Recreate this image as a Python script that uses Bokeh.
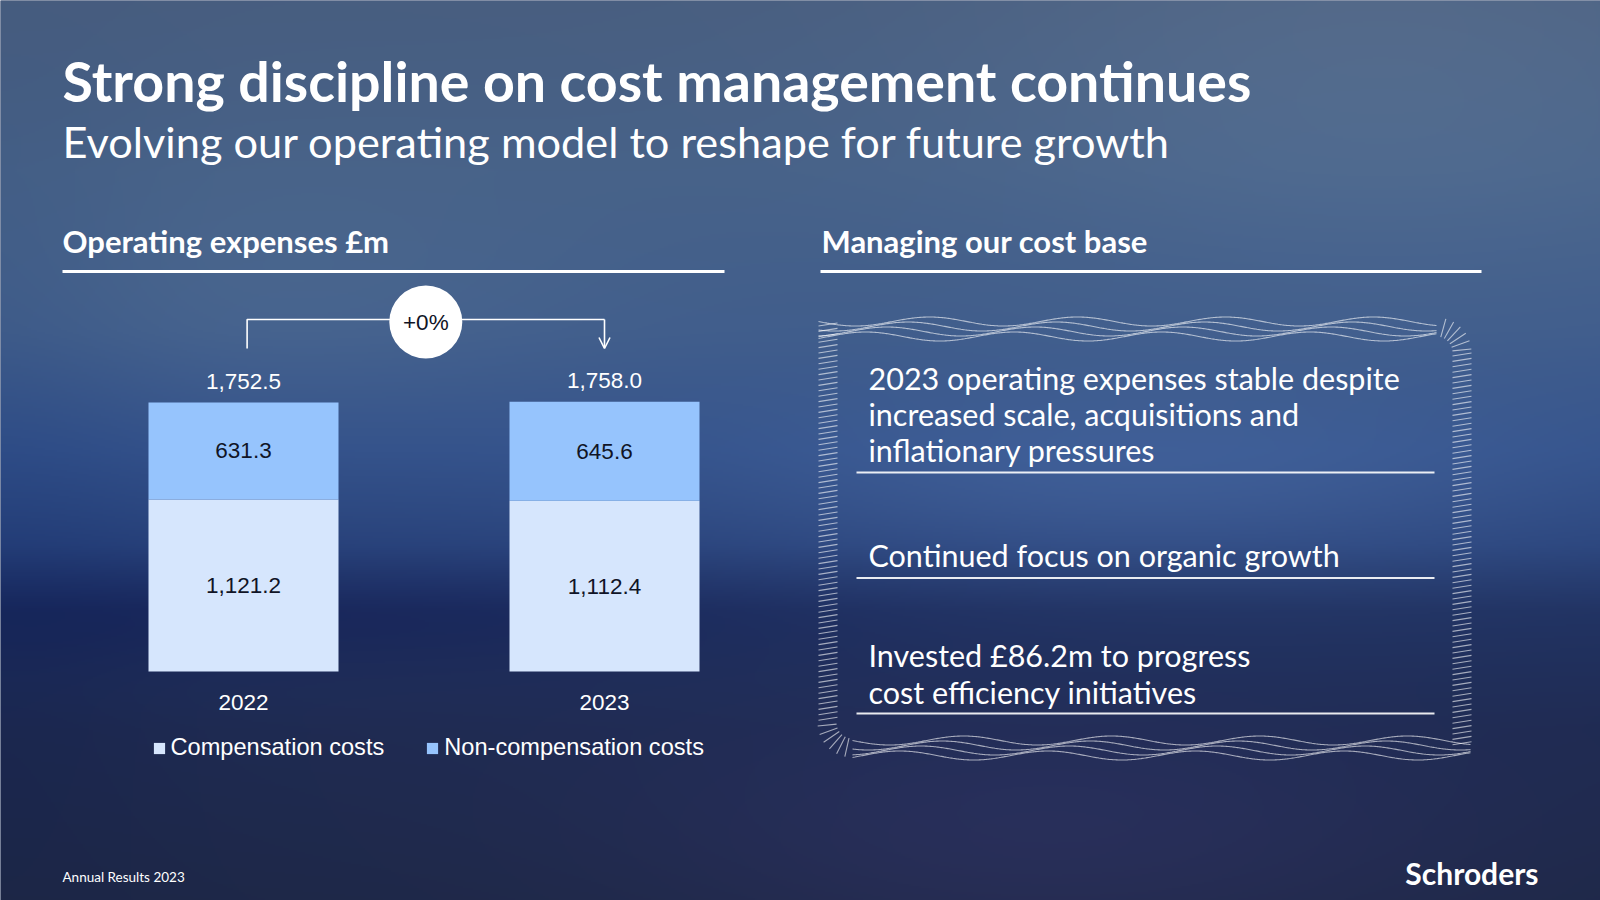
import numpy as np
from bokeh.plotting import figure
from bokeh.models import Range1d, ColumnDataSource, Arrow, OpenHead, Legend, LegendItem
from bokeh.core.properties import value
from bokeh.embed import file_html
from bokeh.resources import INLINE

# ---------------- data ----------------
years = ["2022", "2023"]
comp_costs = [1121.2, 1112.4]
noncomp_costs = [631.3, 645.6]
series_names = ["Compensation costs", "Non-compensation costs"]
change_label = "+0%"

title_text = "Strong discipline on cost management continues"
subtitle_text = "Evolving our operating model to reshape for future growth"
left_heading = "Operating expenses £m"
right_heading = "Managing our cost base"
bullet_lines = [
    ["2023 operating expenses stable despite", "increased scale, acquisitions and", "inflationary pressures"],
    ["Continued focus on organic growth"],
    ["Invested £86.2m to progress", "cost efficiency initiatives"],
]
footer_text = "Annual Results 2023"
brand_text = "Schroders"

# ---------------- styles ----------------
COMP = "#d6e6fd"
NONCOMP = "#96c4fd"
DARK = "#101426"
WHITE = "#ffffff"
HEAD_FONT = "Lato"
BODY_FONT = "Lato"
NUM_FONT = "Liberation Sans"

W, H = 1600, 900
OX, OY = 0, 0  # coordinates below are picture pixels, y = -picture_y

p = figure(width=W, height=H, x_range=Range1d(OX, OX + W), y_range=Range1d(-(OY + H), -OY),
           output_backend="svg", toolbar_location=None, min_border=0,
           x_axis_location=None, y_axis_location=None)
p.grid.visible = False
p.outline_line_color = None
p.background_fill_color = "#2c3f66"
p.border_fill_color = "#2c3f66"

# ---------------- background (blurred sky) ----------------
iw, ih = 800, 450
sx = OX + (np.arange(iw) + 0.5) * (W / iw)
sy = OY + (np.arange(ih) + 0.5) * (H / ih)
XX, YY = np.meshgrid(sx, sy)
stops_y = [0, 170, 330, 450, 545, 610, 730, 900]
stops_c = np.array([
    (72, 94, 128), (70, 97, 136), (63, 92, 139), (51, 81, 138),
    (42, 68, 124), (33, 51, 99), (31, 43, 82), (30, 40, 72)], dtype=float)
img = np.zeros((ih, iw, 3))
for c in range(3):
    img[:, :, c] = np.interp(YY, stops_y, stops_c[:, c])
blobs = [
    ((1380, 60), (320, 160), (12, 12, 10)),
    ((250, 300), (260, 90), (8, 8, 4)),
    ((1150, 490), (300, 70), (14, 16, 16)),
    ((330, 612), (380, 40), (-7, -10, -6)),
    ((1050, 840), (300, 90), (10, 6, 14)),
    ((0, 450), (120, 300), (-6, -6, -4)),
]
for (cx, cy), (gx, gy), dc in blobs:
    g = np.exp(-(((XX - cx) / gx) ** 2 + ((YY - cy) / gy) ** 2) / 2)
    for c in range(3):
        img[:, :, c] += dc[c] * g
rgba = np.zeros((ih, iw, 4), dtype=np.uint8)
rgba[:, :, :3] = np.clip(img, 0, 255).astype(np.uint8)
rgba[:, :, 3] = 255
rgba = np.flipud(rgba).copy()
p.image_rgba(image=[rgba.view(dtype=np.uint32).reshape(ih, iw)], x=OX, y=-(OY + H), dw=W, dh=H)

# ---------------- chart scales ----------------
bar_bottom_px = 671.0
px_per_unit = 269.0 / 1752.5
x0_px, step_px = 243.0, 361.0
bar_w_px = 190.0
p.extra_y_ranges = {"val": Range1d(-(OY + H - bar_bottom_px) / px_per_unit, (bar_bottom_px - OY) / px_per_unit)}
p.extra_x_ranges = {"cat": Range1d(-(x0_px - OX) / step_px, (OX + W - x0_px) / step_px)}

idx = list(range(len(years)))
totals = [a + b for a, b in zip(comp_costs, noncomp_costs)]
src = ColumnDataSource(dict(
    x=idx, year=years, comp=comp_costs, non=noncomp_costs, total=totals,
    comp_mid=[c / 2 for c in comp_costs],
    non_mid=[c + n / 2 for c, n in zip(comp_costs, noncomp_costs)],
    comp_lbl=[f"{v:,.1f}" for v in comp_costs],
    non_lbl=[f"{v:,.1f}" for v in noncomp_costs],
    tot_lbl=[f"{v:,.1f}" for v in totals],
    zero=[0] * len(years),
))
bw = bar_w_px / step_px
r_comp = p.vbar(x="x", width=bw, bottom=0, top="comp", source=src, fill_color=COMP,
                line_color=None, x_range_name="cat", y_range_name="val")
r_non = p.vbar(x="x", width=bw, bottom="comp", top="total", source=src, fill_color=NONCOMP,
               line_color=None, x_range_name="cat", y_range_name="val")

numkw = dict(source=src, x_range_name="cat", y_range_name="val", text_align="center",
             text_baseline="middle", text_font=value(NUM_FONT), text_font_size="22.5px")
p.text(x="x", y="comp_mid", text="comp_lbl", text_color=DARK, **numkw)
p.text(x="x", y="non_mid", text="non_lbl", text_color=DARK, **numkw)
p.text(x="x", y="total", text="tot_lbl", text_color=WHITE, y_offset=-21, **numkw)
p.text(x="x", y="zero", text="year", text_color=WHITE, y_offset=31, **numkw)

# bracket + change bubble
p.line(x=[0.01, 0.01, 1], y=[-348, -319, -319], x_range_name="cat", line_color=WHITE, line_width=1.6)
p.add_layout(Arrow(end=OpenHead(size=11, line_color=WHITE, line_width=1.6),
                   x_start=1, y_start=-319, x_end=1, y_end=-348, x_range_name="cat",
                   line_color=WHITE, line_width=1.6))
p.scatter(x=[0.505], y=[-321.5], size=73, marker="circle", fill_color=WHITE, line_color=None,
          x_range_name="cat")
p.text(x=[0.505], y=[-321.5], text=[change_label], x_range_name="cat", text_align="center",
       text_baseline="middle", text_font=value(NUM_FONT), text_font_size="22.5px", text_color=DARK)

# legend
legend = Legend(items=[LegendItem(label=series_names[0], renderers=[r_comp]),
                       LegendItem(label=series_names[1], renderers=[r_non])],
                orientation="horizontal", location=(151.5, H - 761),
                glyph_width=14, glyph_height=14, label_height=22, label_standoff=5,
                spacing=41, padding=0, margin=0, border_line_alpha=0, background_fill_alpha=0,
                label_text_font=NUM_FONT, label_text_font_size="23.6px", label_text_color=WHITE)
p.add_layout(legend, "center")

# ---------------- headings ----------------
p.text(x=[62], y=[-80], text=[title_text], text_font=value(HEAD_FONT), text_font_style="bold",
       text_font_size="55.5px", text_color=WHITE, text_baseline="middle")
p.text(x=[62], y=[-140], text=[subtitle_text], text_font=value(BODY_FONT),
       text_font_size="43.3px", text_color=WHITE, text_baseline="middle")
p.text(x=[62, 821], y=[-240, -240], text=[left_heading, right_heading], text_font=value(HEAD_FONT),
       text_font_style="bold", text_font_size="31px", text_color=WHITE, text_baseline="middle")
p.segment(x0=[62, 820], y0=[-271, -271], x1=[724, 1481], y1=[-271, -271], line_color=WHITE, line_width=3)

# ---------------- right panel ----------------
line_y = [[377, 413, 449], [554], [654, 691]]
rule_y = [472, 577.5, 713]
bx, by, bt = [], [], []
for lines, ys in zip(bullet_lines, line_y):
    for t, yy in zip(lines, ys):
        bx.append(868); by.append(-yy); bt.append(t)
p.text(x=bx, y=by, text=bt, text_font=value(BODY_FONT), text_font_size="30.5px",
       text_color=WHITE, text_baseline="middle")
p.segment(x0=[856] * 3, y0=[-v for v in rule_y], x1=[1434] * 3, y1=[-v for v in rule_y],
          line_color=WHITE, line_width=2, line_alpha=0.9)

# wavy frame decoration
xs, ys = [], []
for k in range(4):
    xt = np.linspace(818, 1436, 500)
    yt = 321 + 5 * k + 4.5 * np.sin(2 * np.pi * (xt - 818) / 148 + 0.9 * k)
    xs.append(list(xt)); ys.append(list(-yt))
    xb = np.linspace(852, 1470, 500)
    yb = 740 + 5 * k + 4.5 * np.sin(2 * np.pi * (xb - 852) / 148 + 0.9 * k)
    xs.append(list(xb)); ys.append(list(-yb))
for yy in np.arange(324, 722, 5.4):
    xs.append([818, 837]); ys.append([-(yy + 1.5), -(yy - 1.5)])
for yy in np.arange(354, 745, 5.4):
    xs.append([1452, 1471]); ys.append([-(yy + 1.5), -(yy - 1.5)])
for th in np.linspace(0.1, 1.3, 6):  # top-right corner
    cx, cy = 1436, 352
    xs.append([cx + 16 * np.cos(th), cx + 35 * np.cos(th)])
    ys.append([-(cy - 16 * np.sin(th)), -(cy - 35 * np.sin(th))])
for th in np.linspace(np.pi + 0.1, np.pi + 1.35, 6):  # bottom-left corner
    cx, cy = 852, 722
    xs.append([cx + 16 * np.cos(th), cx + 35 * np.cos(th)])
    ys.append([-(cy - 16 * np.sin(th)), -(cy - 35 * np.sin(th))])
p.multi_line(xs=xs, ys=ys, line_color=WHITE, line_alpha=0.6, line_width=1.1)

# ---------------- footer ----------------
p.text(x=[62], y=[-876], text=[footer_text], text_font=value(BODY_FONT), text_font_size="13.5px",
       text_color=WHITE, text_baseline="middle")
p.text(x=[1538], y=[-872], text=[brand_text], text_font=value(HEAD_FONT), text_font_style="bold",
       text_font_size="30px", text_color=WHITE, text_baseline="middle", text_align="right")

open("out.html", "w", encoding="utf-8").write(file_html(p, INLINE))
